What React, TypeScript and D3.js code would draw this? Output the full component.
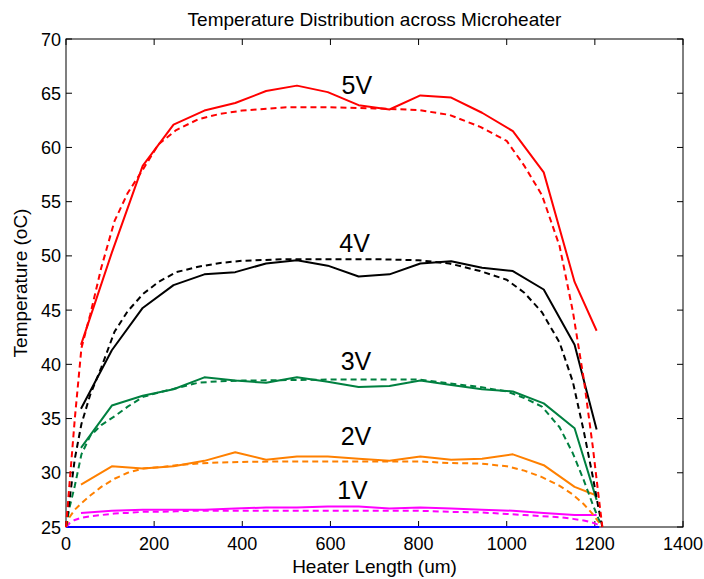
import React from 'react';
import * as d3 from 'd3';

// measured points (solid lines)
const measX = [34, 104, 174, 244, 314, 384, 454, 524, 594, 664, 734, 804, 874, 944, 1014, 1084, 1154, 1204];
const meas5V = [41.8, 50.3, 58.3, 62.1, 63.4, 64.1, 65.2, 65.7, 65.1, 63.9, 63.5, 64.8, 64.6, 63.2, 61.5, 57.7, 47.6, 43.1];
const meas4V = [35.9, 41.3, 45.2, 47.3, 48.3, 48.5, 49.3, 49.6, 49.1, 48.1, 48.3, 49.3, 49.5, 48.9, 48.6, 46.9, 41.8, 34.0];
const meas3V = [32.3, 36.2, 37.1, 37.7, 38.8, 38.5, 38.3, 38.8, 38.4, 37.9, 38.0, 38.5, 38.1, 37.7, 37.5, 36.4, 34.1, 27.5];
const meas2V = [28.9, 30.6, 30.4, 30.6, 31.1, 31.9, 31.2, 31.5, 31.5, 31.3, 31.1, 31.5, 31.2, 31.3, 31.7, 30.7, 28.7, 27.9];
const meas1V = [26.3, 26.5, 26.6, 26.6, 26.6, 26.7, 26.8, 26.8, 26.9, 26.9, 26.7, 26.8, 26.7, 26.6, 26.5, 26.3, 26.1, 26.1];

// simulated curves (dashed lines)
const simX = [0, 8, 20, 35, 55, 80, 110, 140, 175, 210, 250, 300, 350, 400, 500, 600, 700, 800, 870, 940, 1000, 1040, 1080, 1120, 1150, 1175, 1195, 1208, 1217];
const sim5V = [25, 29, 35, 41.5, 44.6, 48.9, 53.2, 55.8, 58.0, 60.3, 61.6, 62.6, 63.1, 63.4, 63.7, 63.7, 63.6, 63.45, 63.0, 61.9, 60.6, 58.3, 55.6, 50.9, 44.9, 38.6, 32.5, 28.0, 25];
const sim4V = [25, 27.5, 31.3, 34.5, 37.2, 39.7, 43.0, 44.9, 46.5, 47.6, 48.5, 49.0, 49.35, 49.55, 49.7, 49.7, 49.7, 49.6, 49.3, 48.6, 47.8, 46.6, 44.8, 42.0, 38.4, 33.8, 29.7, 26.8, 25];
const sim3V = [25, 26.8, 28.8, 31.7, 33.4, 34.4, 35.2, 36.1, 37.0, 37.4, 37.8, 38.3, 38.45, 38.5, 38.55, 38.6, 38.6, 38.6, 38.25, 37.9, 37.5, 36.9, 36.1, 34.2, 31.8, 29.3, 27.1, 25.8, 25];
const sim2V = [25, 25.9, 26.6, 27.2, 27.9, 28.7, 29.45, 30.0, 30.4, 30.5, 30.7, 30.85, 30.95, 31.0, 31.05, 31.05, 31.05, 31.05, 30.9, 30.85, 30.6, 30.2, 29.6, 28.8, 28.0, 27.1, 26.2, 25.5, 25];
const sim1V = [25, 25.35, 25.65, 25.85, 26.0, 26.1, 26.25, 26.3, 26.4, 26.4, 26.45, 26.5, 26.5, 26.5, 26.5, 26.5, 26.5, 26.5, 26.4, 26.35, 26.2, 26.1, 26.0, 25.9, 25.75, 25.6, 25.4, 25.2, 25];

const baseX = [0, 1210];
const base0V = [25, 25];

const xTicks = [0, 200, 400, 600, 800, 1000, 1200, 1400];
const yTicks = [25, 30, 35, 40, 45, 50, 55, 60, 65, 70];

const voltLabels = ['5V', '4V', '3V', '2V', '1V'];
const labelX = [660, 655, 658, 658, 650];
const labelT = [64.9, 50.4, 39.45, 32.55, 27.55];

const W = 704;
const H = 579;
const margin = { top: 39, right: 21, bottom: 52, left: 66 };
const font = '"Liberation Sans", Arial, Helvetica, sans-serif';

const App = () => {
  const x = d3.scaleLinear().domain([0, 1400]).range([margin.left, W - margin.right]);
  const y = d3.scaleLinear().domain([25, 70]).range([H - margin.bottom, margin.top]);

  const line = d3.line<[number, number]>()
    .x(d => x(d[0]))
    .y(d => y(d[1]));

  const zip = (xs: number[], ys: number[]) => xs.map((v, i) => [v, ys[i]] as [number, number]);

  // drawing order roughly like the original plot
  const series = [
    { xs: baseX, ys: base0V, color: '#0000ff', dashed: false },
    { xs: simX, ys: sim1V, color: '#ff00ff', dashed: true },
    { xs: measX, ys: meas1V, color: '#ff00ff', dashed: false },
    { xs: simX, ys: sim2V, color: '#ff8000', dashed: true },
    { xs: measX, ys: meas2V, color: '#ff8000', dashed: false },
    { xs: simX, ys: sim3V, color: '#008040', dashed: true },
    { xs: measX, ys: meas3V, color: '#008040', dashed: false },
    { xs: simX, ys: sim4V, color: '#000000', dashed: true },
    { xs: measX, ys: meas4V, color: '#000000', dashed: false },
    { xs: simX, ys: sim5V, color: '#ff0000', dashed: true },
    { xs: measX, ys: meas5V, color: '#ff0000', dashed: false },
  ];

  const x0 = margin.left;
  const x1 = W - margin.right;
  const y0 = H - margin.bottom;
  const y1 = margin.top;
  const tick = 6;

  return (
    <div style={{ position: 'absolute', left: 0, top: 0 }}>
      <svg width={W} height={H} style={{ display: 'block', background: '#fff' }}>
        <rect x={0} y={0} width={W} height={H} fill="#fff" />

        {/* axes box */}
        <rect x={x0} y={y1} width={x1 - x0} height={y0 - y1} fill="none" stroke="#000" strokeWidth={1} />

        {xTicks.map(t => (
          <g key={'xt' + t}>
            <line x1={x(t)} x2={x(t)} y1={y0} y2={y0 - tick} stroke="#000" />
            <line x1={x(t)} x2={x(t)} y1={y1} y2={y1 + tick} stroke="#000" />
            <text x={x(t)} y={y0 + 23} textAnchor="middle" fontFamily={font} fontSize={18}>{t}</text>
          </g>
        ))}
        {yTicks.map(t => (
          <g key={'yt' + t}>
            <line x1={x0} x2={x0 + tick} y1={y(t)} y2={y(t)} stroke="#000" />
            <line x1={x1} x2={x1 - tick} y1={y(t)} y2={y(t)} stroke="#000" />
            <text x={x0 - 5} y={y(t) + 6.5} textAnchor="end" fontFamily={font} fontSize={18}>{t}</text>
          </g>
        ))}

        {series.map((s, i) => (
          <path
            key={i}
            d={line(zip(s.xs, s.ys)) || ''}
            fill="none"
            stroke={s.color}
            strokeWidth={2}
            strokeDasharray={s.dashed ? '6,4' : undefined}
            strokeLinejoin="round"
          />
        ))}

        {voltLabels.map((lab, i) => (
          <text key={lab} x={x(labelX[i])} y={y(labelT[i])} textAnchor="middle" fontFamily={font} fontSize={25}>{lab}</text>
        ))}

        <text x={(x0 + x1) / 2} y={26} textAnchor="middle" fontFamily={font} fontSize={19}>
          Temperature Distribution across Microheater
        </text>
        <text x={(x0 + x1) / 2} y={573} textAnchor="middle" fontFamily={font} fontSize={19}>
          Heater Length (um)
        </text>
        <text transform={`translate(27,${(y0 + y1) / 2}) rotate(-90)`} textAnchor="middle" fontFamily={font} fontSize={19}>
          Temperature (oC)
        </text>
      </svg>
    </div>
  );
};

export default App;
